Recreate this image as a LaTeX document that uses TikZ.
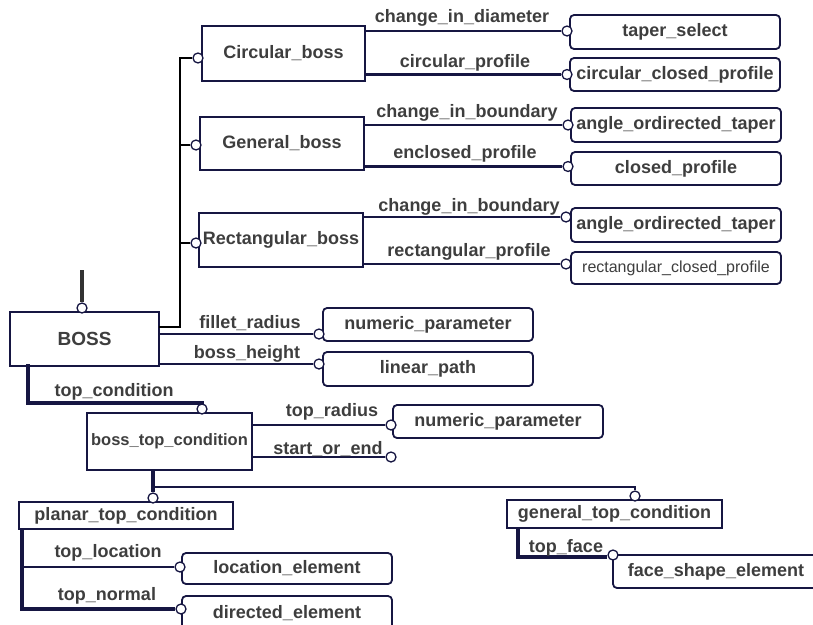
\documentclass[tikz,border=0pt]{standalone}
\usepackage{fontspec}
\setmainfont{Liberation Sans}
\usetikzlibrary{calc}
\definecolor{navy}{RGB}{22,22,66}
\definecolor{txt}{RGB}{62,62,62}
\definecolor{stub}{RGB}{50,50,50}
\begin{document}
\begin{tikzpicture}[x=1pt,y=-1pt,
  ent/.style={draw=navy,line width=1.8pt,fill=white,text=txt,
    font=\fontsize{18}{20}\selectfont\bfseries,inner sep=0pt,outer sep=0pt},
  typ/.style={ent,rounded corners=4pt},
  ln/.style={draw=navy,line width=2.2pt},
  thk/.style={draw=navy,line width=3.4pt},
  busln/.style={draw=black,line width=1.8pt},
  lbl/.style={text=txt,font=\fontsize{18}{20}\selectfont\bfseries,inner sep=0pt},
  oc/.style={circle,draw=navy,line width=1.3pt,fill=white,minimum size=10pt,inner sep=0pt}
]
\useasboundingbox (0,0) rectangle (813,624);
\clip (0,0) rectangle (813,624);

% entity boxes
\node[ent,minimum width=163pt,minimum height=55pt] (cb) at (283.5,53.5) {Circular\_boss};
\node[ent,minimum width=164pt,minimum height=53pt] (gb) at (282,143.5) {General\_boss};
\node[ent,minimum width=164pt,minimum height=54pt] (rb) at (281,240) {Rectangular\_boss};
\node[ent,minimum width=149pt,minimum height=54pt,font=\fontsize{19}{20}\selectfont\bfseries] (boss) at (84.5,339) {BOSS};
\node[ent,minimum width=165pt,minimum height=57pt,font=\fontsize{16.5}{18}\selectfont\bfseries] (btc) at (169.5,441.5) {boss\_top\_condition};
\node[ent,minimum width=214pt,minimum height=27pt] (ptc) at (126,515.5) {planar\_top\_condition};
\node[ent,minimum width=215pt,minimum height=28pt] (gtc) at (614.5,514) {general\_top\_condition};

% type boxes
\node[typ,minimum width=210pt,minimum height=34pt] (ts) at (675,32) {taper\_select};
\node[typ,minimum width=210pt,minimum height=33pt] (ccp) at (675,74.5) {circular\_closed\_profile};
\node[typ,minimum width=210pt,minimum height=34pt] (aot1) at (676,125) {angle\_ordirected\_taper};
\node[typ,minimum width=210pt,minimum height=33pt] (clp) at (676,168.5) {closed\_profile};
\node[typ,minimum width=210pt,minimum height=34pt] (aot2) at (676,225) {angle\_ordirected\_taper};
\node[typ,minimum width=210pt,minimum height=32pt,font=\fontsize{16}{18}\selectfont] (rcp) at (676,268) {rectangular\_closed\_profile};
\node[typ,minimum width=210pt,minimum height=33pt] (np1) at (428,324.5) {numeric\_parameter};
\node[typ,minimum width=210pt,minimum height=34pt] (lp) at (428,369) {linear\_path};
\node[typ,minimum width=210pt,minimum height=33pt] (np2) at (498,421.5) {numeric\_parameter};
\node[typ,minimum width=210pt,minimum height=31pt] (le) at (287,568.5) {location\_element};
\node[typ,minimum width=210pt,minimum height=34pt] (de) at (287,613) {directed\_element};
\node[typ,minimum width=206pt,minimum height=33pt] (fse) at (716,571.5) {face\_shape\_element};

% circles
\node[oc] (o1) at ($(ts.west)+(-3,-1)$) {};
\node[oc] (o2) at ($(ccp.west)+(-3,0)$) {};
\node[oc] (o3) at ($(aot1.west)+(-3,0)$) {};
\node[oc] (o4) at ($(clp.west)+(-3,-2)$) {};
\node[oc] (o5) at ($(aot2.west)+(-5,-8)$) {};
\node[oc] (o6) at ($(rcp.west)+(-5,-4)$) {};
\node[oc] (o7) at ($(cb.west)+(-4,4.5)$) {};
\node[oc] (o8) at ($(gb.west)+(-4,1.5)$) {};
\node[oc] (o9) at ($(rb.west)+(-3,3)$) {};
\node[oc] (o10) at ($(boss.north)+(-2.5,-4)$) {};
\node[oc] (o11) at ($(np1.west)+(-4,9.5)$) {};
\node[oc] (o12) at ($(lp.west)+(-4,-5)$) {};
\node[oc] (o13) at ($(btc.north)+(32.5,-4)$) {};
\node[oc] (o14) at ($(np2.west)+(-2,3.5)$) {};
\node[oc] (o15) at ($(np2.west)+(-2,35.5)$) {};
\node[oc] (o16) at ($(ptc.north)+(27,-4)$) {};
\node[oc] (o17) at ($(gtc.north)+(20.5,-4)$) {};
\node[oc] (o18) at ($(le.west)+(-2,-1.5)$) {};
\node[oc] (o19) at ($(de.west)+(-1,-4)$) {};
\node[oc] (o20) at ($(fse.north west)+(0,0)$) {};

% helper coordinates
\coordinate (bx) at (180,327);
\coordinate (bst) at (82,270);
\coordinate (tc) at (28,403);
\coordinate (sj) at (153,487);
\coordinate (pv) at (22,609);
\coordinate (gv) at (518,557);

% attribute connectors
\draw[ln] (cb.east |- o1) -- (o1.west);
\draw[ln,line width=3pt] (cb.east |- o2) -- (o2.west);
\draw[ln] (gb.east |- o3) -- (o3.west);
\draw[ln] (gb.east |- o4) -- (o4.west);
\draw[ln] (rb.east |- o5) -- (o5.west);
\draw[ln] (rb.east |- o6) -- (o6.west);
\draw[ln] (boss.east |- o11) -- (o11.west);
\draw[ln] (boss.east |- o12) -- (o12.west);
\draw[ln] (btc.east |- o14) -- (o14.west);
\draw[ln] (btc.east |- o15) -- (o15.west);

% subtype bus
\draw[busln] (o7.west) -| (bx) -- (boss.east |- bx);
\draw[busln] (o8.west) -- (o8.west -| bx);
\draw[busln] (o9.west) -- (o9.west -| bx);
\draw[stub,line width=3.6pt] (bst) -- (o10.north);

% top_condition
\draw[thk,line cap=rect] (boss.south -| tc) -- (tc) -| (o13.north);

% subtypes of boss_top_condition
\draw[thk] (btc.south -| sj) -- (sj) -- (o16.north);
\draw[ln] (sj) -| (o17.north);

% planar_top_condition attributes
\draw[thk] (ptc.south -| pv) -- (pv |- o19) -- (o19.west);
\draw[ln] (pv |- o18) -- (o18.west);

% general_top_condition attribute
\draw[thk] (gtc.south -| gv) -- (gv) -- (o20.west |- gv);

% labels
\node[lbl] (l1) at (462,18) {change\_in\_diameter};
\node[lbl] (l2) at (465,63) {circular\_profile};
\node[lbl] (l3) at (467,113) {change\_in\_boundary};
\node[lbl] (l4) at (465,154) {enclosed\_profile};
\node[lbl] (l5) at (469,207) {change\_in\_boundary};
\node[lbl] (l6) at (469,252) {rectangular\_profile};
\node[lbl] (l7) at (250,323) {fillet\_radius};
\node[lbl] (l8) at (247,354) {boss\_height};
\node[lbl] (l9) at (114,392) {top\_condition};
\node[lbl] (l10) at (332,412) {top\_radius};
\node[lbl] (l11) at (328,449) {start\_or\_end};
\node[lbl] (l12) at (108,553) {top\_location};
\node[lbl] (l13) at (107,596) {top\_normal};
\node[lbl] (l14) at (566,548) {top\_face};
\end{tikzpicture}
\end{document}
